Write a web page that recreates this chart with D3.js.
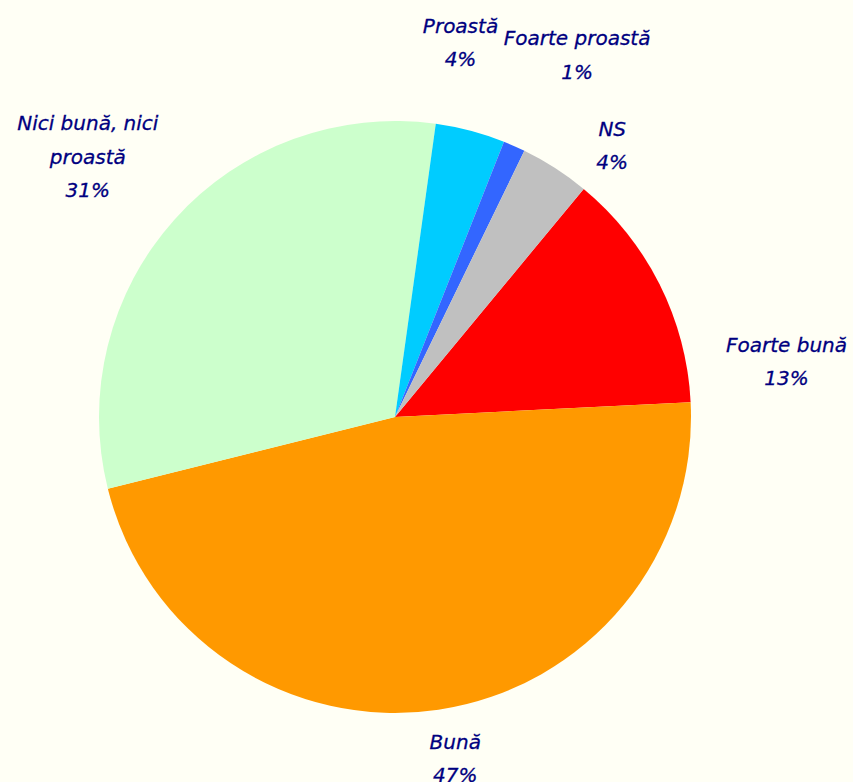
<!DOCTYPE html>
<html><head><meta charset="utf-8">
<script src="https://cdn.jsdelivr.net/npm/d3@7"></script>
<style>html,body{margin:0;padding:0;background:#FFFFF5;}svg{display:block;}</style>
</head><body>
<svg id="c" width="853" height="782"></svg>
<script>
const categories = ["Foarte bună", "Bună", "Nici bună, nici proastă", "Proastă", "Foarte proastă", "NS"];
const labelLines = [["Foarte bună"], ["Bună"], ["Nici bună, nici", "proastă"], ["Proastă"], ["Foarte proastă"], ["NS"]];
const values = [13.2, 46.9, 31.1, 3.8, 1.2, 3.8];
const colors = ["#FF0000", "#FF9900", "#CCFFCC", "#00CCFF", "#3366FF", "#C0C0C0"];

const W = 853, H = 782, cx = 395, cy = 417, r = 296;
const svg = d3.select("#c");
svg.append("rect").attr("width", W).attr("height", H).attr("fill", "#FFFFF5");

const startDeg = 39.6;
const pie = d3.pie().sort(null).value(d => d)
  .startAngle(startDeg * Math.PI / 180).endAngle((startDeg + 360) * Math.PI / 180);
const arcs = pie(values);
const arc = d3.arc().innerRadius(0).outerRadius(r);
const g = svg.append("g").attr("transform", `translate(${cx},${cy})`);
g.selectAll("path").data(arcs).join("path")
  .attr("d", arc).attr("fill", (d, i) => colors[i]);

// label placement: point on an outer ring at mid angle plus a nudge (Excel-like layout)
const labelR = r * 1.2;
const nudge = [[74, 104], [8, -10], [-43, -23], [-25, -31], [39, -37], [25, 27]];
const lh = 33.5;
arcs.forEach((a, i) => {
  const m = (a.startAngle + a.endAngle) / 2;
  const x = Math.sin(m) * labelR + nudge[i][0];
  const y = -Math.cos(m) * labelR + nudge[i][1];
  const lines = labelLines[i].concat([Math.round(values[i]) + "%"]);
  const t = g.append("text").attr("text-anchor", "middle")
    .attr("font-family", "DejaVu Sans, Verdana, sans-serif")
    .attr("font-style", "italic").attr("font-size", 20).attr("fill", "#000080")
    .attr("stroke", "#000080").attr("stroke-width", 0.3);
  lines.forEach((s, k) => {
    t.append("tspan").attr("x", x).attr("y", y + (k - (lines.length - 1) / 2) * lh)
      .attr("dominant-baseline", "central").text(s);
  });
});
</script>
</body></html>
